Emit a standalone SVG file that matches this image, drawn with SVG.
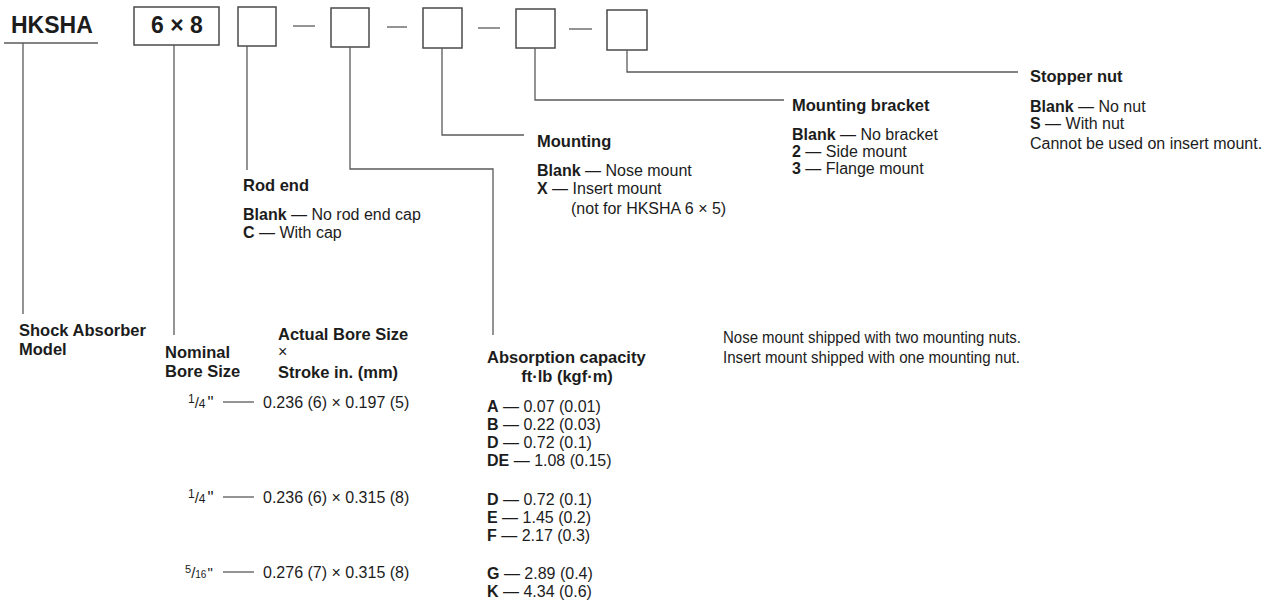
<svg xmlns="http://www.w3.org/2000/svg" width="1283" height="601" viewBox="0 0 1283 601">
<style>
text{font-family:"Liberation Sans",Arial,sans-serif;fill:#1c1c1c;font-size:16px}
.b{font-weight:bold}
.h{font-weight:bold;font-size:16.5px}
.big{font-weight:bold;font-size:23px}
.n{font-size:16.5px}
.sm{font-size:12px}
.box{fill:none;stroke:#4a4a4a;stroke-width:1.5}
.ln{fill:none;stroke:#5a5a5a;stroke-width:1.3}
</style>
<rect width="1283" height="601" fill="#ffffff"/>
<g id="model">
<text class="big" x="11" y="33">HKSHA</text>
<line class="ln" x1="4" y1="43" x2="98" y2="43"/>
</g>
<g id="box-size">
<rect class="box" x="134" y="7" width="85" height="38"/>
<text class="big" x="177" y="33" text-anchor="middle">6 × 8</text>
</g>
<g id="box-rodend"><rect class="box" x="238" y="7" width="38" height="39"/></g>
<g id="box-capacity"><rect class="box" x="331" y="8" width="38" height="39"/></g>
<g id="box-mounting"><rect class="box" x="423" y="8" width="39" height="40"/></g>
<g id="box-bracket"><rect class="box" x="516" y="9" width="39" height="39"/></g>
<g id="box-stopper"><rect class="box" x="607" y="10" width="40" height="40"/></g>
<g id="separators">
<line class="ln" x1="293" y1="26" x2="315" y2="26"/>
<line class="ln" x1="387" y1="27" x2="407" y2="27"/>
<line class="ln" x1="478" y1="28" x2="500" y2="28"/>
<line class="ln" x1="569" y1="29" x2="592" y2="29"/>
</g>
<g id="connectors">
<polyline class="ln" points="23,43 23,314"/>
<polyline class="ln" points="174,45 174,335"/>
<polyline class="ln" points="247,46 247,170"/>
<polyline class="ln" points="350,47 350,169 493,169 493,335"/>
<polyline class="ln" points="442,48 442,135 524,135"/>
<polyline class="ln" points="535,48 535,100 784,100"/>
<polyline class="ln" points="627,50 627,72 1018,72"/>
</g>
<g id="stopper-nut">
<text class="h" x="1030" y="82">Stopper nut</text>
<text x="1030" y="112"><tspan class="b">Blank</tspan> — No nut</text>
<text x="1030" y="129"><tspan class="b">S</tspan> — With nut</text>
<text x="1030" y="149">Cannot be used on insert mount.</text>
</g>
<g id="mounting-bracket">
<text class="h" x="792" y="111">Mounting bracket</text>
<text x="792" y="140"><tspan class="b">Blank</tspan> — No bracket</text>
<text x="792" y="157"><tspan class="b">2</tspan> — Side mount</text>
<text x="792" y="174"><tspan class="b">3</tspan> — Flange mount</text>
</g>
<g id="mounting">
<text class="h" x="537" y="147">Mounting</text>
<text x="537" y="176"><tspan class="b">Blank</tspan> — Nose mount</text>
<text x="537" y="194"><tspan class="b">X</tspan> — Insert mount</text>
<text x="571" y="214">(not for HKSHA 6 × 5)</text>
</g>
<g id="rod-end">
<text class="h" x="243" y="191">Rod end</text>
<text x="243" y="220"><tspan class="b">Blank</tspan> — No rod end cap</text>
<text x="243" y="238"><tspan class="b">C</tspan> — With cap</text>
</g>
<g id="shock-absorber-model">
<text class="h" x="19" y="336">Shock Absorber</text>
<text class="h" x="19" y="355">Model</text>
</g>
<g id="nominal-bore">
<text class="h" x="165" y="358">Nominal</text>
<text class="h" x="165" y="377">Bore Size</text>
<text x="188" y="408"><tspan class="sm" dy="-5">1</tspan><tspan font-size="15" dy="5">/</tspan><tspan class="sm">4</tspan><tspan font-size="17" dx="2">"</tspan></text>
<text x="188" y="503"><tspan class="sm" dy="-5">1</tspan><tspan font-size="15" dy="5">/</tspan><tspan class="sm">4</tspan><tspan font-size="17" dx="2">"</tspan></text>
<text x="185" y="578"><tspan font-size="11" dy="-5">5</tspan><tspan font-size="15" dy="5">/</tspan><tspan font-size="10">16</tspan><tspan font-size="15" dx="1">"</tspan></text>
<line class="ln" x1="223" y1="402" x2="254" y2="402"/>
<line class="ln" x1="223" y1="497" x2="254" y2="497"/>
<line class="ln" x1="223" y1="572" x2="254" y2="572"/>
</g>
<g id="actual-bore">
<text class="h" x="278" y="340">Actual Bore Size</text>
<text x="278" y="357">×</text>
<text class="h" x="278" y="378">Stroke in. (mm)</text>
<text x="263" y="408">0.236 (6) × 0.197 (5)</text>
<text x="263" y="503">0.236 (6) × 0.315 (8)</text>
<text x="263" y="578">0.276 (7) × 0.315 (8)</text>
</g>
<g id="absorption-capacity">
<text class="h" x="487" y="363">Absorption capacity</text>
<text class="h" x="567" y="382" text-anchor="middle">ft·lb (kgf·m)</text>
<text x="487" y="412"><tspan class="b">A</tspan> — 0.07 (0.01)</text>
<text x="487" y="430"><tspan class="b">B</tspan> — 0.22 (0.03)</text>
<text x="487" y="448"><tspan class="b">D</tspan> — 0.72 (0.1)</text>
<text x="487" y="466"><tspan class="b">DE</tspan> — 1.08 (0.15)</text>
<text x="487" y="505"><tspan class="b">D</tspan> — 0.72 (0.1)</text>
<text x="487" y="523"><tspan class="b">E</tspan> — 1.45 (0.2)</text>
<text x="487" y="541"><tspan class="b">F</tspan> — 2.17 (0.3)</text>
<text x="487" y="579"><tspan class="b">G</tspan> — 2.89 (0.4)</text>
<text x="487" y="597"><tspan class="b">K</tspan> — 4.34 (0.6)</text>
</g>
<g id="notes">
<text class="n" x="723" y="343" textLength="298" lengthAdjust="spacingAndGlyphs">Nose mount shipped with two mounting nuts.</text>
<text class="n" x="723" y="363" textLength="297" lengthAdjust="spacingAndGlyphs">Insert mount shipped with one mounting nut.</text>
</g>
</svg>
